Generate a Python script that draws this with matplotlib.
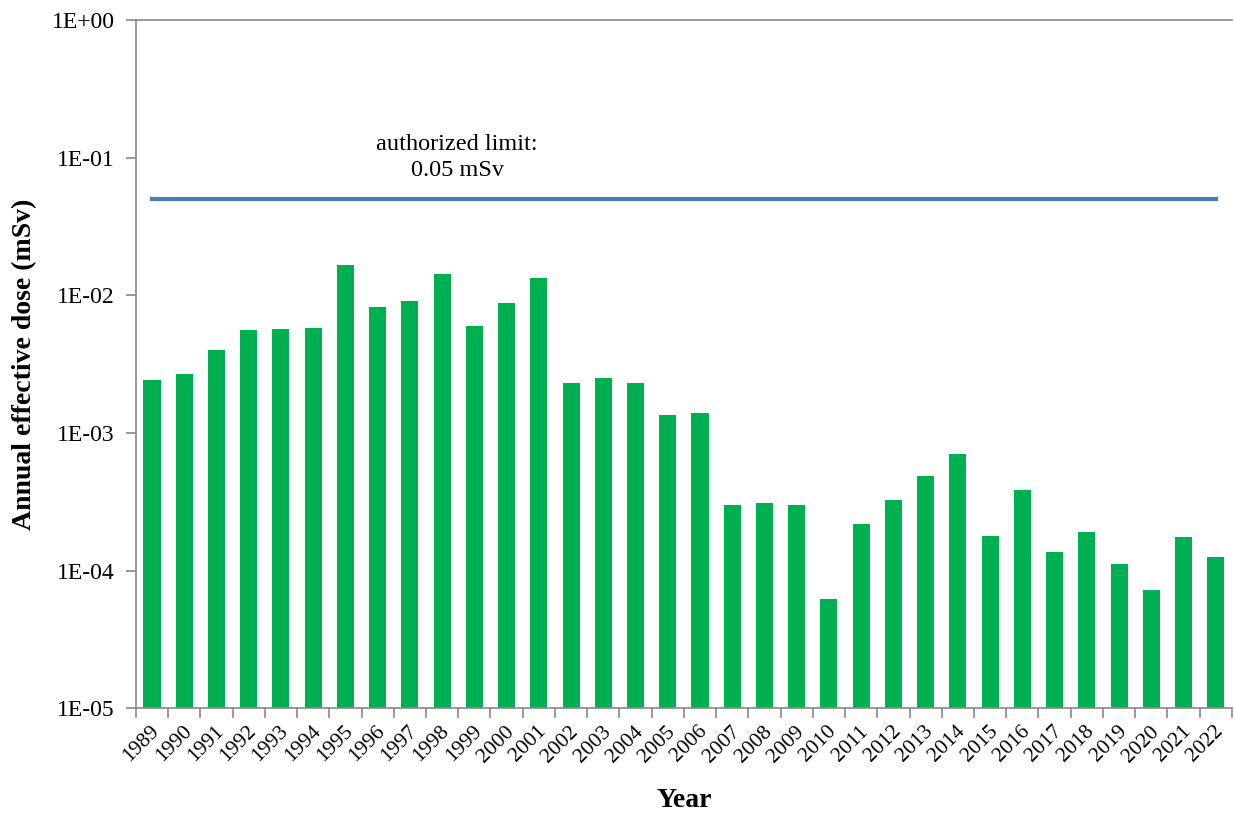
import matplotlib.pyplot as plt
import matplotlib.ticker as mticker
import matplotlib.transforms as mtransforms
import numpy as np

plt.rcParams['font.family'] = ['Liberation Serif', 'DejaVu Serif']

years = [str(y) for y in range(1989, 2023)]
dose = [2.42e-3, 2.67e-3, 4.0e-3, 5.6e-3, 5.7e-3, 5.8e-3, 1.66e-2, 8.2e-3,
        9.1e-3, 1.43e-2, 5.97e-3, 8.8e-3, 1.33e-2, 2.3e-3, 2.5e-3, 2.3e-3,
        1.35e-3, 1.39e-3, 2.99e-4, 3.08e-4, 2.99e-4, 6.2e-5, 2.17e-4, 3.25e-4,
        4.85e-4, 7.0e-4, 1.78e-4, 3.84e-4, 1.36e-4, 1.9e-4, 1.11e-4, 7.2e-5,
        1.75e-4, 1.25e-4]
limit = 0.05

fig = plt.figure(figsize=(12.35, 8.14), dpi=100)
ax = fig.add_axes([0.110, 0.130, 0.8875, 0.8454])

x = np.arange(len(years))
ax.set_yscale('log')
ax.bar(x, dose, width=0.53, color='#00B050', zorder=2)
ax.plot([x[0], x[-1]], [limit, limit], color='#4A7EBB', lw=3, zorder=3)
ax.text(9.47, 0.1, 'authorized limit:\n0.05 mSv', ha='center', va='center',
        fontsize=17.5, linespacing=1.3)

ax.set_ylim(1e-5, 1)
ax.set_xlim(-0.5, len(years) - 0.5)
ax.yaxis.set_major_locator(mticker.LogLocator(base=10, numticks=10))
ax.yaxis.set_minor_locator(mticker.NullLocator())
ax.yaxis.set_major_formatter(mticker.FuncFormatter(lambda v, p: f"{v:.0E}"))

ax.set_xticks(x)
ax.set_xticklabels(years, rotation=45, ha='right', rotation_mode='anchor', fontsize=15.5)
ax.tick_params(axis='x', length=0, pad=10)
shift = mtransforms.ScaledTranslation(-2 / 100, 0, fig.dpi_scale_trans)
for lab in ax.get_xticklabels():
    lab.set_transform(lab.get_transform() + shift)
ax.set_xticks(np.arange(-0.5, len(years)), minor=True)
ax.tick_params(axis='x', which='minor', length=7, color='#888888', width=1.2)
ax.tick_params(axis='y', labelsize=17, length=7, color='#888888', width=1.2, pad=8)

for side in ['left', 'bottom', 'top']:
    ax.spines[side].set_color('#888888')
    ax.spines[side].set_linewidth(1.2)
ax.spines['right'].set_visible(False)

ax.set_ylabel('Annual effective dose (mSv)', fontsize=20, fontweight='bold', labelpad=11)
ax.set_xlabel('Year', fontsize=20, fontweight='bold', labelpad=16)

fig.savefig('out.png', dpi=100)
